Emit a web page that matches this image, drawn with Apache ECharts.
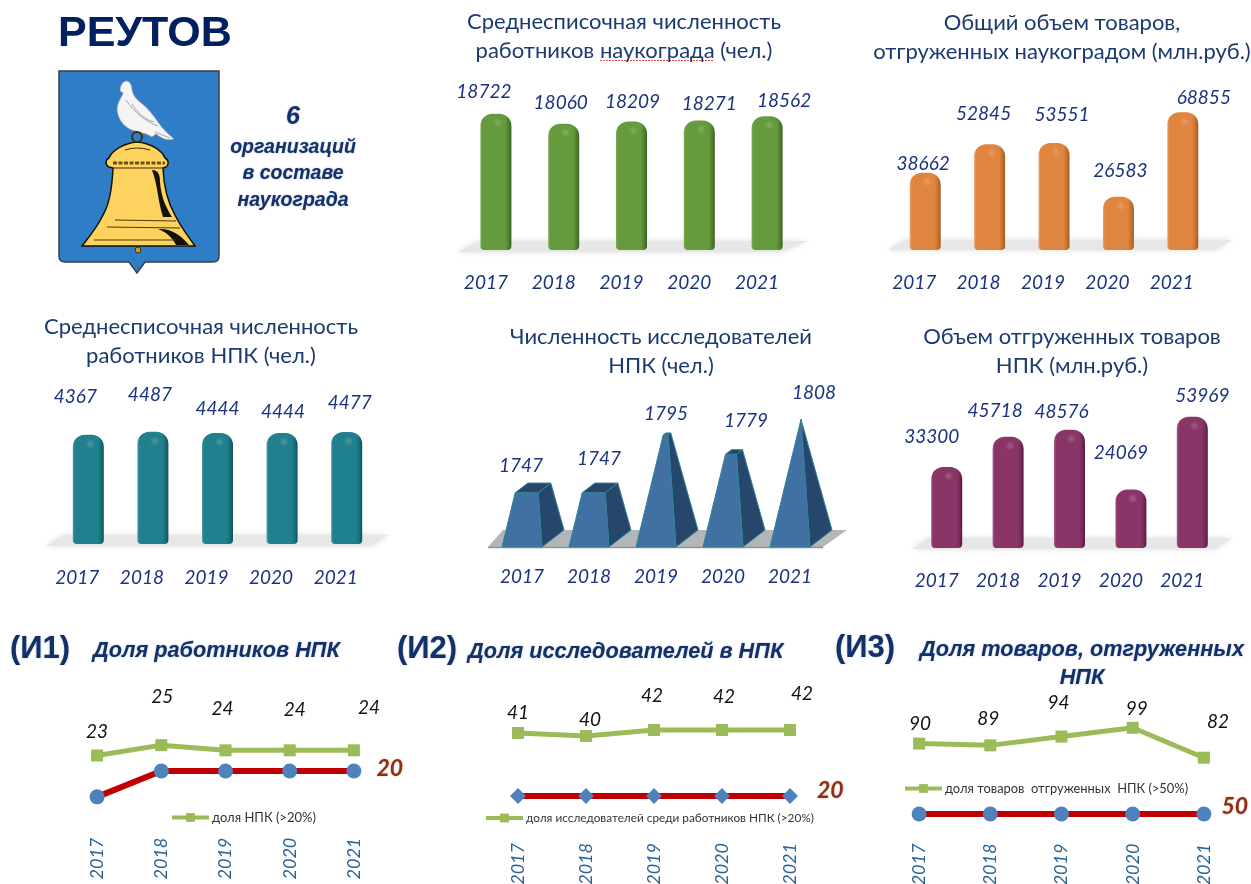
<!DOCTYPE html>
<html>
<head>
<meta charset="utf-8">
<style>
  html, body { margin: 0; padding: 0; background: #fff; }
  #chart { width: 1251px; height: 884px; }
</style>
<script src="https://cdn.jsdelivr.net/npm/echarts@6/dist/echarts.min.js"></script>
</head>
<body>
<div id="chart"></div>
<script>
const years = ['2017', '2018', '2019', '2020', '2021']

// columns and pyramids
const staffCity = [18722, 18060, 18209, 18271, 18562]
const goodsCity = [38662, 52845, 53551, 26583, 68855]
const staffNpk = [4367, 4487, 4444, 4444, 4477]
const researchersNpk = [1747, 1747, 1795, 1779, 1808]
const goodsNpk = [33300, 45718, 48576, 24069, 53969]

// indicator lines
const shareStaff = [23, 25, 24, 24, 24]
const limitStaff = [15, 20, 20, 20, 20]
const shareResearchers = [41, 40, 42, 42, 42]
const limitResearchers = [20, 20, 20, 20, 20]
const shareGoods = [90, 89, 94, 99, 82]
const limitGoods = [50, 50, 50, 50, 50]

const shareStaffName = 'доля НПК (>20%)'
const shareResearchersName = 'доля исследователей среди работников НПК (>20%)'
const shareGoodsName = 'доля товаров  отгруженных  НПК (>50%)'

const FONT = 'Lato, "Open Sans", sans-serif'
const ARIAL = '"Liberation Sans", Arial, sans-serif'
const NAVY = '#1b3a6f'
const LABEL_BLUE = '#1a3380'

let grids = []
let xAxes = []
let yAxes = []
let series = []
let legends = []

function addAxes (box, min, max, axisLabel) {
  // outerBoundsMode off: the rotated year labels must not squeeze the plot
  grids.push({ left: box[0], top: box[1], width: box[2], height: box[3], outerBoundsMode: 'none' })
  let idx = grids.length - 1
  xAxes.push({
    type: 'category',
    gridIndex: idx,
    data: years,
    axisLine: { show: false },
    axisTick: { show: false },
    splitLine: { show: false },
    axisLabel: axisLabel
  })
  yAxes.push({ type: 'value', gridIndex: idx, min: min, max: max, show: false, splitLine: { show: false } })
  return idx
}

function columnPanel (opts) {
  let idx = addAxes(opts.box, opts.min, opts.max, {
    color: LABEL_BLUE,
    fontFamily: FONT,
    fontStyle: 'italic',
    fontSize: 19,
    margin: opts.margin,
    padding: opts.labelPad
  })
  let c = opts.colors
  series.push({
    type: 'bar',
    xAxisIndex: idx,
    yAxisIndex: idx,
    barWidth: 31,
    silent: true,
    itemStyle: {
      borderRadius: [12, 12, 4, 4],
      color: {
        type: 'linear', x: 0, y: 0, x2: 1, y2: 0,
        colorStops: [
          { offset: 0, color: c[0] },
          { offset: 0.07, color: c[1] },
          { offset: 0.8, color: c[1] },
          { offset: 0.9, color: c[2] },
          { offset: 1, color: c[3] }
        ]
      }
    },
    label: {
      show: true,
      position: 'top',
      color: LABEL_BLUE,
      fontFamily: FONT,
      fontStyle: 'italic',
      fontSize: 19
    },
    data: opts.values.map((v, i) => ({ value: v, label: { offset: opts.offsets[i] } }))
  })
  // small highlight on the rounded top of each column
  series.push({
    type: 'custom',
    xAxisIndex: idx,
    yAxisIndex: idx,
    silent: true,
    z: 3,
    data: opts.values.map((v, i) => [i, v]),
    renderItem: function (params, api) {
      let p = api.coord([api.value(0), api.value(1)])
      return {
        type: 'ellipse',
        shape: { cx: p[0] + 2, cy: p[1] + 9, rx: 9, ry: 5 },
        style: {
          fill: {
            type: 'radial', x: 0.5, y: 0.5, r: 0.5,
            colorStops: [
              { offset: 0, color: 'rgba(255,255,255,0.2)' },
              { offset: 1, color: 'rgba(255,255,255,0)' }
            ]
          }
        }
      }
    }
  })
}

function linePanel (opts) {
  let idx = addAxes(opts.box, opts.min, opts.max, {
    color: '#2a6496',
    fontFamily: FONT,
    fontStyle: 'italic',
    fontSize: 18,
    rotate: 90,
    margin: opts.margin
  })
  series.push({
    name: opts.shareName,
    type: 'line',
    xAxisIndex: idx,
    yAxisIndex: idx,
    symbol: 'rect',
    symbolSize: 12,
    silent: true,
    lineStyle: { color: '#9bbb59', width: 5 },
    itemStyle: { color: '#9bbb59' },
    label: {
      show: true,
      position: 'top',
      color: '#111',
      fontFamily: FONT,
      fontStyle: 'italic',
      fontSize: 19
    },
    data: opts.share.map((v, i) => ({ value: v, label: { offset: opts.offsets[i] } }))
  })
  series.push({
    name: opts.limitName,
    type: 'line',
    xAxisIndex: idx,
    yAxisIndex: idx,
    symbol: opts.symbol,
    symbolSize: opts.symbolSize,
    silent: true,
    lineStyle: { color: '#c00000', width: 6 },
    itemStyle: { color: '#4f81bd' },
    data: opts.limit.map((v, i) => {
      if (i !== opts.limit.length - 1) return { value: v }
      return {
        value: v,
        label: {
          show: true,
          position: 'right',
          offset: opts.limitOffset,
          formatter: '{c}',
          color: '#962c12',
          fontFamily: FONT,
          fontStyle: 'italic',
          fontWeight: 'bold',
          fontSize: 23,
          textShadowColor: 'rgba(90,40,20,0.35)',
          textShadowBlur: 2
        }
      }
    })
  })
  legends.push({
    data: [opts.shareName],
    left: opts.legendAt[0],
    top: opts.legendAt[1],
    selectedMode: false,
    itemWidth: 37,
    itemHeight: 11,
    itemGap: 2,
    padding: 0,
    lineStyle: { width: 4 },
    textStyle: { fontFamily: FONT, fontSize: opts.legendSize, color: '#333', padding: [0, 0, 0, -2] }
  })
}

columnPanel({
  box: [462, 100, 339, 150], min: 9700, max: 19630, values: staffCity,
  colors: ['#7cab5c', '#659b3c', '#538431', '#37601f'],
  offsets: [[-12, -7], [-3, -6], [1, -5], [10, -2], [17, -1]],
  labelPad: [0, 20, 0, 0], margin: 23
})
columnPanel({
  box: [893, 100, 322, 150], min: 0, max: 75000, values: goodsCity,
  colors: ['#eaa371', '#e08540', '#c9742f', '#a35a20'],
  offsets: [[-2, 6], [-6, -16], [8, -14], [2, -11], [21, 0]],
  labelPad: [0, 22, 0, 0], margin: 23
})
columnPanel({
  box: [56, 419, 323, 125], min: 0, max: 5000, values: staffNpk,
  colors: ['#4b9aa5', '#20808d', '#18717d', '#12505a'],
  offsets: [[-13, -23], [-3, -22], [0, -10], [1, -7], [3, -15]],
  labelPad: [0, 22, 0, 0], margin: 24
})
columnPanel({
  box: [916, 402, 307, 146], min: 0, max: 60000, values: goodsNpk,
  colors: ['#a85b88', '#8a3567', '#7b2c5a', '#561c3e'],
  offsets: [[-15, -16], [-13, -11], [-8, -3], [-10, -22], [10, -6]],
  labelPad: [0, 20, 0, 0], margin: 23
})

// truncated pyramids: researchers chart
const pyramidMin = 1702
const pyramidPeak = 1808
const pyramidOffsets = [[-1, -27], [10, -34], [10, -21], [23, -33], [24, -27]]
let pyramidAxis = addAxes([488.5, 417, 335, 130], pyramidMin, 1810, {
  color: LABEL_BLUE,
  fontFamily: FONT,
  fontStyle: 'italic',
  fontSize: 19,
  margin: 20
})

function lerp (a, b, t) {
  return [a[0] + (b[0] - a[0]) * t, a[1] + (b[1] - a[1]) * t]
}

series.push({
  type: 'custom',
  xAxisIndex: pyramidAxis,
  yAxisIndex: pyramidAxis,
  silent: true,
  data: researchersNpk.map((v, i) => [i, v]),
  renderItem: function (params, api) {
    let i = api.value(0)
    let v = api.value(1)
    let base = api.coord([i, pyramidMin])
    let top = api.coord([i, v])
    let apexY = api.coord([i, pyramidPeak])[1]
    let apex = [base[0] + 11, apexY]
    let t = (base[1] - top[1]) / (base[1] - apexY)
    let fl = [base[0] - 20, base[1]]
    let fr = [base[0] + 20, base[1]]
    let br = [base[0] + 42, base[1] - 17]
    let bl = [base[0] + 2, base[1] - 17]
    let tfl = lerp(fl, apex, t)
    let tfr = lerp(fr, apex, t)
    let tbr = lerp(br, apex, t)
    let tbl = lerp(bl, apex, t)
    let edge = { stroke: '#2f8397', lineWidth: 1 }
    let off = pyramidOffsets[i]
    return {
      type: 'group',
      children: [
        { type: 'polygon', shape: { points: [fr, br, tbr, tfr] }, style: Object.assign({ fill: '#27466b' }, edge) },
        { type: 'polygon', shape: { points: [tfl, tfr, tbr, tbl] }, style: Object.assign({ fill: '#27466b' }, edge) },
        { type: 'polygon', shape: { points: [fl, fr, tfr, tfl] }, style: Object.assign({ fill: '#4170a3' }, edge) },
        {
          type: 'text',
          style: {
            text: String(v),
            x: base[0] + off[0],
            y: top[1] + off[1],
            align: 'center',
            verticalAlign: 'middle',
            fill: LABEL_BLUE,
            font: 'italic 19px ' + FONT
          }
        }
      ]
    }
  }
})

linePanel({
  box: [65, 719.3, 321, 103.4], min: 10, max: 30,
  share: shareStaff, limit: limitStaff,
  shareName: shareStaffName, limitName: 'порог И1',
  symbol: 'circle', symbolSize: 15, margin: 15,
  offsets: [[0, -3], [1, -28], [-3, -21], [5, -20], [15, -22]],
  limitOffset: [10, -2], legendAt: [170, 811], legendSize: 13
})
linePanel({
  box: [484, 706, 340, 120], min: 10, max: 50,
  share: shareResearchers, limit: limitResearchers,
  shareName: shareResearchersName, limitName: 'порог И2',
  symbol: 'diamond', symbolSize: 16, margin: 17,
  offsets: [[0, 0], [4, 4], [-2, -14], [2, -13], [12, -16]],
  limitOffset: [14, -5], legendAt: [484, 812], legendSize: 11.8
})
linePanel({
  box: [883.5, 708.4, 356, 123.2], min: 40, max: 110,
  share: shareGoods, limit: limitGoods,
  shareName: shareGoodsName, limitName: 'порог И3',
  symbol: 'circle', symbolSize: 15, margin: 12,
  offsets: [[1, 1], [-2, -6], [-3, -13], [4, 2], [14, -15]],
  limitOffset: [5, -7], legendAt: [903, 782], legendSize: 12.9
})

function titleBlock (text, cx, top) {
  return {
    text: text,
    left: cx,
    top: top,
    textAlign: 'center',
    padding: 0,
    textStyle: { fontFamily: FONT, fontWeight: 'normal', fontSize: 22, lineHeight: 29, color: NAVY }
  }
}

function headBlock (text, left, top, size, italic, align) {
  return {
    text: text,
    left: left,
    top: top,
    padding: 0,
    textAlign: align || 'left',
    textStyle: {
      fontFamily: ARIAL,
      fontWeight: 'bold',
      fontStyle: italic ? 'italic' : 'normal',
      fontSize: size,
      lineHeight: size + 6,
      color: '#12306a',
      textShadowColor: 'rgba(30,60,120,0.35)',
      textShadowBlur: 2
    }
  }
}

const titles = [
  titleBlock('Среднесписочная численность\nработников наукограда (чел.)', 624, 7),
  titleBlock('Общий объем товаров,\nотгруженных наукоградом (млн.руб.)', 1062, 8),
  titleBlock('Среднесписочная численность\nработников НПК (чел.)', 201, 312),
  titleBlock('Численность исследователей\nНПК (чел.)', 661, 322),
  titleBlock('Объем отгруженных товаров\nНПК (млн.руб.)', 1072, 322),
  {
    text: 'РЕУТОВ', left: 58, top: 13, padding: 0,
    textStyle: { fontFamily: ARIAL, fontWeight: 'bold', fontSize: 43, color: '#002060' }
  },
  {
    text: '6', left: 293, top: 105, padding: 0, textAlign: 'center',
    textStyle: { fontFamily: ARIAL, fontWeight: 'bold', fontStyle: 'italic', fontSize: 25, color: '#12306a', textShadowColor: 'rgba(30,60,120,0.4)', textShadowBlur: 2 }
  },
  {
    text: 'организаций\nв составе\nнаукограда', left: 293, top: 134, padding: 0, textAlign: 'center',
    textStyle: { fontFamily: ARIAL, fontWeight: 'bold', fontStyle: 'italic', fontSize: 19.5, lineHeight: 26.5, color: '#12306a', textShadowColor: 'rgba(30,60,120,0.4)', textShadowBlur: 2 }
  },
  headBlock('(И1)', 10, 631, 31, false),
  headBlock('Доля работников НПК', 93, 637, 21.7, true),
  headBlock('(И2)', 397, 631, 31, false),
  headBlock('Доля исследователей в НПК', 468, 638, 21.7, true),
  headBlock('(И3)', 835, 630, 31, false),
  headBlock('Доля товаров, отгруженных\nНПК', 1082, 636, 21.7, true, 'center')
]

// floors under the charts and the dotted spellcheck line
function floor (points) {
  return { type: 'polygon', shape: { points: points }, style: { fill: '#e7e7e7', shadowBlur: 6, shadowColor: '#dddddd' } }
}

const graphicEls = [
  floor([[457, 252], [780, 252], [808, 241], [480, 241]]),
  floor([[888, 250], [1215, 250], [1232, 240], [905, 240]]),
  floor([[46, 546], [372, 546], [388, 535], [64, 535]]),
  floor([[912, 549], [1215, 549], [1232, 538], [928, 538]]),
  { type: 'polygon', shape: { points: [[488, 547], [823, 547], [847, 530], [503, 530]] }, style: { fill: '#b2b6b9' } },
  { type: 'line', shape: { x1: 488, y1: 547.5, x2: 823, y2: 547.5 }, style: { stroke: '#8f9497', lineWidth: 1.5 } },
  { type: 'line', shape: { x1: 600, y1: 60.5, x2: 714, y2: 60.5 }, style: { stroke: '#e0504a', lineWidth: 1, lineDash: [2, 1] } }
]

// coat of arms, drawn once as a free-standing custom series
const BELL = '#fdd25f'
series.push({
  type: 'custom',
  coordinateSystem: 'none',
  silent: true,
  data: [0],
  renderItem: function () {
    const shapes = [
      ['M59 71 L219 71 L219 256 Q219 262 213 262 L145 262 L137 273 L129 262 L65 262 Q59 262 59 256 Z', { fill: '#2f7dc7', stroke: '#3a3f44', lineWidth: 1.5 }],
      // dove
      ['M126 81 C130 81 132 85 132 90 C133 95 136 99 140 102 C148 108 154 116 158 122 C162 128 168 134 174 139 C168 141 162 139 156 134 L152 137 C146 133 140 133 135 131 C125 129 118 120 117 110 C117 102 122 97 123 93 L120 91 C120 86 122 82 126 81 Z', { fill: '#f4f4f4', stroke: '#8d97a0', lineWidth: 0.7 }],
      ['M126 100 C134 112 146 122 158 126 M132 104 C138 114 146 120 154 122 M155 132 L170 138', { fill: 'none', stroke: '#a3a9ae', lineWidth: 1 }],
      // bell
      ['M137 142 C125 143 112 150 109 158 C105 160 105 165 109 167 L113 168 C112 190 109 205 103 215 C97 228 88 238 82 246 L195 246 C188 236 180 226 175 215 C168 203 164 190 163 168 L166 167 C169 165 169 160 165 158 C162 150 150 143 137 142 Z', { fill: BELL, stroke: '#15120a', lineWidth: 1.5 }],
      ['M113 163 L165 163', { fill: 'none', stroke: '#6b5214', lineWidth: 3, lineDash: [4, 1.5] }],
      ['M113 168 L163 168 M125 150 Q137 146 150 150', { fill: 'none', stroke: '#3a2d0a', lineWidth: 1 }],
      ['M152 170 C158 170 160 174 160 182 C161 196 165 206 172 217 L163 217 C158 202 158 186 152 170 Z', { fill: '#15120a' }],
      ['M158 229 C170 228 180 234 189 245 L176 245 C172 237 166 232 158 229 Z', { fill: '#15120a' }],
      ['M115 220 L176 221 M107 227 L180 228 M94 240 L176 240', { fill: 'none', stroke: '#4c3a0c', lineWidth: 1 }]
    ]
    let children = shapes.map(s => ({ type: 'path', shape: { pathData: s[0] }, style: s[1] }))
    children.push({ type: 'circle', shape: { cx: 137, cy: 137, r: 5 }, style: { fill: '#2f7dc7', stroke: '#3d2f08', lineWidth: 2 } })
    children.push({ type: 'circle', shape: { cx: 138, cy: 250, r: 3 }, style: { fill: '#c9962f', stroke: '#3d2f08', lineWidth: 1 } })
    return { type: 'group', children: children }
  }
})

let chart = echarts.init(document.getElementById('chart'))
chart.setOption({
  backgroundColor: '#ffffff',
  animation: false,
  title: titles,
  legend: legends,
  grid: grids,
  xAxis: xAxes,
  yAxis: yAxes,
  graphic: graphicEls,
  series: series
})
</script>
</body>
</html>
